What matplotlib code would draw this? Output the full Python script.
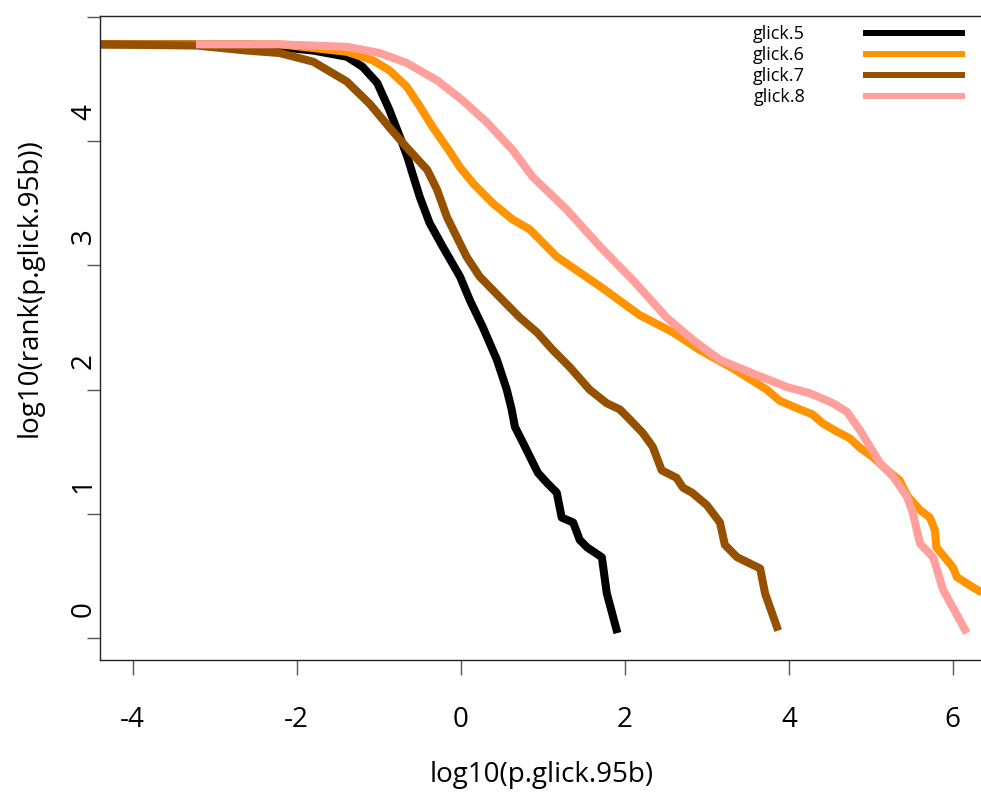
import numpy as np
import matplotlib as mpl
mpl.use('Agg')
import matplotlib.pyplot as plt
from matplotlib.transforms import ScaledTranslation

plt.rcParams['font.family'] = ['Open Sans', 'DejaVu Sans']

# log10(p.glick.95b) vs log10(rank)
x5 = [-4.43, -2.57, -1.80, -1.39, -1.20, -1.02, -0.87, -0.74, -0.65, -0.59, -0.50, -0.38, -0.22,
      -0.01, 0.11, 0.27, 0.44, 0.56, 0.62, 0.66, 0.76, 0.88, 0.94, 1.05, 1.17, 1.23, 1.37, 1.45,
      1.54, 1.72, 1.78, 1.91]
y5 = [4.78, 4.78, 4.73, 4.68, 4.60, 4.47, 4.25, 4.03, 3.87, 3.74, 3.55, 3.34, 3.15,
      2.91, 2.72, 2.50, 2.24, 2.00, 1.84, 1.70, 1.57, 1.41, 1.33, 1.25, 1.17, 0.97, 0.93, 0.79,
      0.73, 0.65, 0.36, 0.04]

x6 = [-4.43, -2.21, -1.39, -1.07, -0.87, -0.66, -0.50, -0.34, -0.17, -0.01, 0.15, 0.39, 0.63,
      0.84, 1.17, 1.70, 2.18, 2.59, 2.91, 3.32, 3.73, 3.89, 4.10, 4.29, 4.41, 4.59, 4.74, 4.87,
      5.02, 5.20, 5.35, 5.45, 5.60, 5.72, 5.78, 5.80, 6.00, 6.05, 6.24, 6.45]
y6 = [4.78, 4.78, 4.72, 4.65, 4.57, 4.44, 4.28, 4.11, 3.95, 3.79, 3.66, 3.50, 3.37,
      3.29, 3.07, 2.83, 2.60, 2.46, 2.32, 2.17, 2.00, 1.91, 1.85, 1.80, 1.73, 1.66, 1.61, 1.53,
      1.46, 1.35, 1.27, 1.14, 1.03, 0.97, 0.87, 0.73, 0.57, 0.49, 0.41, 0.33]

x7 = [-4.44, -3.22, -2.61, -2.21, -1.80, -1.39, -1.11, -0.87, -0.66, -0.41, -0.29, -0.17, -0.05,
      0.07, 0.23, 0.51, 0.72, 0.93, 1.12, 1.33, 1.57, 1.78, 1.94, 2.06, 2.22, 2.34, 2.45, 2.63,
      2.71, 2.82, 3.00, 3.16, 3.22, 3.37, 3.65, 3.71, 3.87]
y7 = [4.78, 4.77, 4.73, 4.71, 4.64, 4.48, 4.30, 4.11, 3.95, 3.77, 3.61, 3.39, 3.23,
      3.07, 2.91, 2.72, 2.58, 2.46, 2.32, 2.18, 2.00, 1.89, 1.84, 1.76, 1.65, 1.54, 1.35, 1.29,
      1.21, 1.17, 1.07, 0.93, 0.75, 0.65, 0.56, 0.36, 0.06]

x8 = [-3.23, -2.21, -1.39, -0.99, -0.66, -0.29, 0.02, 0.32, 0.63, 0.88, 1.29, 1.70, 2.10,
      2.51, 2.83, 3.16, 3.56, 3.98, 4.26, 4.54, 4.71, 4.87, 4.99, 5.11, 5.27, 5.44, 5.51, 5.60,
      5.76, 5.88, 6.17]
y8 = [4.78, 4.78, 4.76, 4.71, 4.63, 4.49, 4.33, 4.15, 3.93, 3.71, 3.45, 3.15, 2.88,
      2.58, 2.40, 2.24, 2.13, 2.02, 1.97, 1.89, 1.82, 1.67, 1.54, 1.41, 1.30, 1.14, 1.01, 0.76,
      0.65, 0.39, 0.04]

names = ['glick.5', 'glick.6', 'glick.7', 'glick.8']
colors = ['#000000', '#FF9400', '#955000', '#FFA09C']
xticks = [-4, -2, 0, 2, 4, 6]
yticks = [0, 1, 2, 3, 4, 5]
ylabels = ['0', '1', '2', '3', '4', '']

W, H = 981, 799
fig = plt.figure(figsize=(W / 100, H / 100), dpi=100)
# plot region runs a bit past the right edge, like the source
ax = fig.add_axes([100 / W, 139 / H, (984 - 100) / W, 644 / H])

series = [(x5, y5), (x6, y6), (x7, y7), (x8, y8)]
handles = []
for (xs, ys), c, n in zip(series, colors, names):
    ax.plot(xs, ys, color=c, lw=5.8, solid_capstyle='butt', solid_joinstyle='round')
    h, = plt.plot([], [], color=c, lw=4.3, solid_capstyle='butt')
    handles.append(h)

ax.set_xlim(-4.40, 6.38)
ax.set_ylim(-0.177, 5.008)

for s in ax.spines.values():
    s.set_linewidth(1.0)
    s.set_color('#222222')

ax.set_xticks(xticks)
ax.set_xticklabels([str(v) for v in xticks])
ax.set_yticks(yticks)
ax.set_yticklabels(ylabels)
ax.tick_params(axis='x', length=11, width=1, color='#555555', labelsize=20, pad=22)
ax.tick_params(axis='y', length=9.5, width=1, color='#555555', labelsize=20, pad=-8,
               labelrotation=90)
for lab in ax.get_yticklabels():
    lab.set_va('center')
    lab.set_ha('right')
    lab.set_transform(lab.get_transform() + ScaledTranslation(0, 29 / 100, fig.dpi_scale_trans))

ax.set_xlabel('log10(p.glick.95b)', fontsize=20, va='center')
ax.xaxis.set_label_coords(0.5, (24 - 139) / 644)
ax.set_ylabel('log10(rank(p.glick.95b))', fontsize=20, va='center', ha='center')
ax.yaxis.set_label_coords((30 - 100) / 884, (799 - 288 - 139) / 644)

ax.legend(handles, names, loc='upper left', bbox_to_anchor=(753 / W, 1 - 25 / H),
          bbox_transform=fig.transFigure, frameon=False, markerfirst=False,
          fontsize=13, handlelength=5.65, handletextpad=3.2, labelspacing=0.17,
          borderpad=0, borderaxespad=0)

plt.savefig('out.png', dpi=100)
plt.close()
